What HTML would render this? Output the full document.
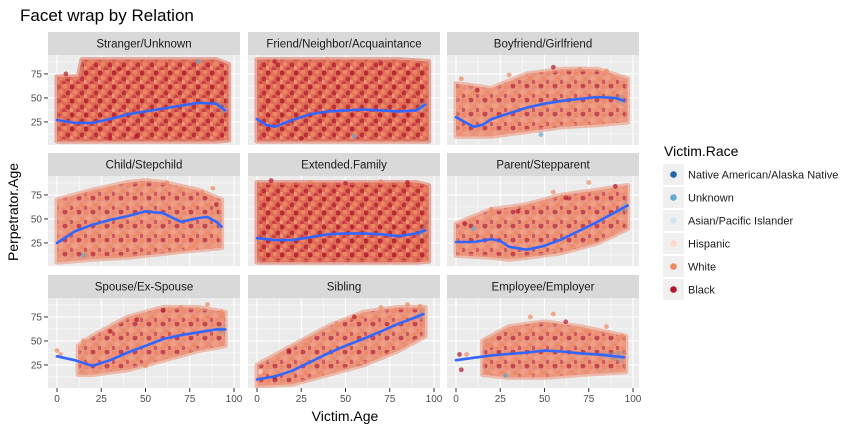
<!DOCTYPE html>
<html><head><meta charset="utf-8"><style>
html,body{margin:0;padding:0;background:#fff}
svg{display:block;font-family:"Liberation Sans",Arial,sans-serif}
</style></head><body>
<svg id="chart" width="864" height="432" viewBox="0 0 864 432">
<defs>
<pattern id="dots" width="14" height="14" patternUnits="userSpaceOnUse">
<rect width="14" height="14" fill="#de6a58"/>
<circle cx="2" cy="3" r="2.5" fill="#b2182b" fill-opacity="0.8"/>
<circle cx="9" cy="2" r="2.5" fill="#ef8a62" fill-opacity="0.9"/>
<circle cx="5" cy="8" r="2.5" fill="#ef8a62" fill-opacity="0.9"/>
<circle cx="12" cy="9" r="2.5" fill="#b2182b" fill-opacity="0.7"/>
<circle cx="1" cy="12" r="2.3" fill="#f4a582" fill-opacity="0.7"/>
<circle cx="8" cy="13" r="2.3" fill="#c23040" fill-opacity="0.7"/>
</pattern>
<pattern id="dots2" width="14" height="14" patternUnits="userSpaceOnUse">
<rect width="14" height="14" fill="#e8806a" fill-opacity="0.8"/>
<circle cx="2" cy="3" r="2.5" fill="#ef8a62" fill-opacity="0.9"/>
<circle cx="9" cy="2" r="2.5" fill="#b2182b" fill-opacity="0.65"/>
<circle cx="5" cy="8" r="2.5" fill="#f4a582" fill-opacity="0.8"/>
<circle cx="12" cy="9" r="2.5" fill="#ef8a62" fill-opacity="0.9"/>
<circle cx="1" cy="12" r="2.3" fill="#c23040" fill-opacity="0.6"/>
<circle cx="8" cy="13" r="2.3" fill="#ef8a62" fill-opacity="0.8"/>
</pattern>
</defs>
<text x="20" y="21" font-size="17" fill="#000">Facet wrap by Relation</text>
<g id="panels"></g>
<text x="345" y="421" font-size="14" text-anchor="middle" fill="#000">Victim.Age</text>
<text transform="translate(18,212) rotate(-90)" font-size="14" text-anchor="middle" fill="#000">Perpetrator.Age</text>
<g id="legend">
<text x="664" y="156" font-size="14" fill="#000">Victim.Race</text>
</g>
</svg>
<script>
const facetNames = ["Stranger/Unknown","Friend/Neighbor/Acquaintance","Boyfriend/Girlfriend","Child/Stepchild","Extended.Family","Parent/Stepparent","Spouse/Ex-Spouse","Sibling","Employee/Employer"];
const bandX = [
 [0,12,14,30,50,70,90,97],
 [0,20,40,60,80,97],
 [0,20,40,60,80,97],
 [0,20,40,50,60,80,93],
 [0,30,60,90,97],
 [0,20,30,40,60,80,97],
 [12,20,40,60,80,95],
 [0,20,40,60,80,95],
 [15,30,50,70,96]
];
const bandLo = [
 [5,5,5,5,5,5,5,6],
 [5,5,5,5,5,5],
 [10,10,15,20,22,25],
 [5,8,10,12,14,18,20],
 [5,5,5,5,6],
 [12,10,8,10,15,25,40],
 [15,15,20,30,40,45],
 [3,5,15,25,40,55],
 [15,12,12,15,18]
];
const bandHi = [
 [72,72,90,90,90,90,90,85],
 [90,90,90,90,90,88],
 [65,60,75,80,80,70],
 [70,80,88,90,88,80,70],
 [88,88,88,88,85],
 [45,60,62,65,75,80,85],
 [45,55,75,85,85,80],
 [25,45,65,80,85,85],
 [50,65,70,65,55]
];
const bandDense = [1,1,0,0,1,0,0,0,0];
const smoothX = [
 [0,10,20,30,40,50,60,70,80,90,95],
 [0,5,10,20,30,40,50,60,70,80,90,95],
 [0,5,10,15,20,30,40,50,60,70,80,90,95],
 [0,10,20,30,40,50,60,70,80,85,90,93],
 [0,10,20,30,40,50,60,70,80,90,95],
 [0,10,20,25,30,40,50,60,70,80,90,97],
 [0,10,20,30,40,50,60,70,80,90,95],
 [0,10,20,30,40,50,60,70,80,90,94],
 [0,20,40,50,60,70,80,95]
];
const smoothY = [
 [27,24,24,28,33,36,39,42,45,44,37],
 [28,22,20,27,33,36,37,38,37,36,37,43],
 [30,25,20,22,28,34,40,44,47,49,51,50,47],
 [25,37,44,49,53,58,56,47,51,52,47,42],
 [30,28,28,31,34,35,35,34,32,35,38],
 [26,26,29,27,21,18,22,29,38,47,57,64],
 [34,30,24,30,38,45,52,56,59,62,62],
 [10,13,19,28,37,45,52,60,68,75,78],
 [30,35,38,40,39,37,36,33]
];
const ptsX = [
 [5,20,35,60,80,45,90,30],
 [10,40,70,88,55,25],
 [3,12,30,55,70,85,48,92],
 [15,62,70,75,82,88,90,78],
 [8,30,50,70,85],
 [5,20,35,55,62,75,90,10],
 [0,2,15,30,45,60,70,85,93,50],
 [2,10,18,30,45,55,70,78,85,92],
 [2,3,6,20,30,42,55,62,75,85,94,28]
];
const ptsY = [
 [75,88,80,85,88,10,85,8],
 [88,90,86,88,10,8],
 [70,58,74,82,80,78,12,62],
 [12,88,80,20,78,82,65,25],
 [90,88,87,89,88],
 [45,60,58,78,72,88,84,40],
 [40,36,50,60,72,82,85,88,80,24],
 [18,12,40,50,68,75,85,82,88,86],
 [36,20,36,45,60,75,78,70,60,65,55,14]
];
const ptsC = [
 ["#b2182b","#ef8a62","#b2182b","#ef8a62","#67a9cf","#b2182b","#ef8a62","#b2182b"],
 ["#b2182b","#ef8a62","#b2182b","#ef8a62","#67a9cf","#b2182b"],
 ["#ef8a62","#b2182b","#ef8a62","#b2182b","#ef8a62","#ef8a62","#67a9cf","#ef8a62"],
 ["#67a9cf","#ef8a62","#ef8a62","#ef8a62","#ef8a62","#ef8a62","#b2182b","#ef8a62"],
 ["#b2182b","#ef8a62","#b2182b","#ef8a62","#b2182b"],
 ["#b2182b","#ef8a62","#b2182b","#ef8a62","#b2182b","#ef8a62","#b2182b","#67a9cf"],
 ["#ef8a62","#ef8a62","#ef8a62","#b2182b","#b2182b","#b2182b","#ef8a62","#ef8a62","#ef8a62","#ef8a62"],
 ["#fddbc7","#b2182b","#b2182b","#ef8a62","#ef8a62","#b2182b","#ef8a62","#ef8a62","#ef8a62","#ef8a62"],
 ["#b2182b","#b2182b","#ef8a62","#ef8a62","#ef8a62","#ef8a62","#ef8a62","#b2182b","#ef8a62","#ef8a62","#ef8a62","#67a9cf"]
];
const xTicks = [0,25,50,75,100];
const yTicks = [25,50,75];
const legendLabels = ["Native American/Alaska Native","Unknown","Asian/Pacific Islander","Hispanic","White","Black"];
const legendColors = ["#2166ac","#67a9cf","#d1e5f0","#fddbc7","#ef8a62","#b2182b"];

const NS="http://www.w3.org/2000/svg";
const colLeft=[48,248,447], PW=192;
const stripTop=[32,153,275], SH=23, PH=90;
function mk(tag,attrs,parent){const e=document.createElementNS(NS,tag);for(const k in attrs)e.setAttribute(k,attrs[k]);parent.appendChild(e);return e;}
function xs(c,v){return colLeft[c]+9+v*1.77;}
function ys(r,v){const top=stripTop[r]+SH;return top+PH-(v-1)*0.96;}
const root=document.getElementById('panels');
for(let i=0;i<9;i++){
 const r=Math.floor(i/3),c=i%3;
 const top=stripTop[r]+SH, left=colLeft[c];
 const g=mk('g',{},root);
 
 
 const st=mk('rect',{x:left,y:stripTop[r],width:PW,height:SH,fill:'#d9d9d9'},g);
 
 
 const lb=mk('text',{x:left+PW/2,y:stripTop[r]+15.5,'font-size':11.5,'text-anchor':'middle',fill:'#1a1a1a'},g);
 lb.textContent=facetNames[i];
 
 
 const bg=mk('rect',{x:left,y:top,width:PW,height:PH,fill:'#ebebeb'},g);
 
 
 const clip=mk('clipPath',{id:'cp'+i},g);
 mk('rect',{x:left,y:top,width:PW,height:PH},clip);
 const inner=mk('g',{'clip-path':'url(#cp'+i+')'},g);
 for(const t of [12.5,37.5,62.5,87.5]){
  mk('line',{x1:xs(c,t),x2:xs(c,t),y1:top,y2:top+PH,stroke:'#fff','stroke-width':0.5},inner);
  mk('line',{x1:left,x2:left+PW,y1:ys(r,t),y2:ys(r,t),stroke:'#fff','stroke-width':0.5},inner);
 }
 for(const t of xTicks){
  mk('line',{x1:xs(c,t),x2:xs(c,t),y1:top,y2:top+PH,stroke:'#fff','stroke-width':1.1},inner);
 }
 for(const t of yTicks){
  mk('line',{x1:left,x2:left+PW,y1:ys(r,t),y2:ys(r,t),stroke:'#fff','stroke-width':1.1},inner);
 }
 let pts=[];
 for(let k=0;k<bandX[i].length;k++)pts.push(xs(c,bandX[i][k]).toFixed(1)+','+ys(r,bandHi[i][k]).toFixed(1));
 for(let k=bandX[i].length-1;k>=0;k--)pts.push(xs(c,bandX[i][k]).toFixed(1)+','+ys(r,bandLo[i][k]).toFixed(1));
 const band=mk('polygon',{points:pts.join(' '),fill:bandDense[i]?'url(#dots)':'url(#dots2)',stroke:bandDense[i]?'#e07a66':'#eb9a80','stroke-width':5,'stroke-linejoin':'round','stroke-opacity':0.6},inner);
 
 
 for(let k=0;k<ptsX[i].length;k++){
  const p=mk('circle',{cx:xs(c,ptsX[i][k]),cy:ys(r,ptsY[i][k]),r:2.4,fill:ptsC[i][k],'fill-opacity':0.7},inner);
  
  
 }
 let d='';
 for(let k=0;k<smoothX[i].length;k++)d+=(k?'L':'M')+xs(c,smoothX[i][k]).toFixed(1)+','+ys(r,smoothY[i][k]).toFixed(1);
 const n=smoothX[i].length;
 const rib=mk('path',{d:'M'+xs(c,smoothX[i][n-2])+','+(ys(r,smoothY[i][n-2])-2)+'L'+xs(c,smoothX[i][n-1])+','+(ys(r,smoothY[i][n-1])-6)+'L'+xs(c,smoothX[i][n-1])+','+(ys(r,smoothY[i][n-1])+6)+'L'+xs(c,smoothX[i][n-2])+','+(ys(r,smoothY[i][n-2])+2)+'Z',fill:'#999','fill-opacity':0.4},inner);
 
 
 const ln=mk('path',{d:d,fill:'none',stroke:'#3366ff','stroke-width':2.6,'stroke-linejoin':'round','stroke-linecap':'round'},inner);
 
 
 if(c===0){
  for(const t of yTicks){
   mk('line',{x1:left-4,x2:left,y1:ys(r,t),y2:ys(r,t),stroke:'#333','stroke-width':1},g);
   const tl=mk('text',{x:left-6,y:ys(r,t)+3.5,'font-size':10,'text-anchor':'end',fill:'#4d4d4d'},g);
   tl.textContent=t;
   
   
  }
 }
 if(r===2){
  for(const t of xTicks){
   mk('line',{x1:xs(c,t),x2:xs(c,t),y1:top+PH,y2:top+PH+4,stroke:'#333','stroke-width':1},g);
   const tl=mk('text',{x:xs(c,t),y:top+PH+14,'font-size':10,'text-anchor':'middle',fill:'#4d4d4d'},g);
   tl.textContent=t;
   
   
  }
 }
}
const lg=document.getElementById('legend');
for(let k=0;k<legendLabels.length;k++){
 const y=164+k*23;
 const e=mk('g',{},lg);
 
 
 mk('rect',{x:663,y:y,width:21,height:21,fill:'#f0f0f0'},e);
 mk('circle',{cx:673.5,cy:y+10.5,r:3.3,fill:legendColors[k]},e);
 const t=mk('text',{x:688,y:y+14.5,'font-size':11,fill:'#1a1a1a'},e);
 t.textContent=legendLabels[k];
}
</script>
</body></html>
